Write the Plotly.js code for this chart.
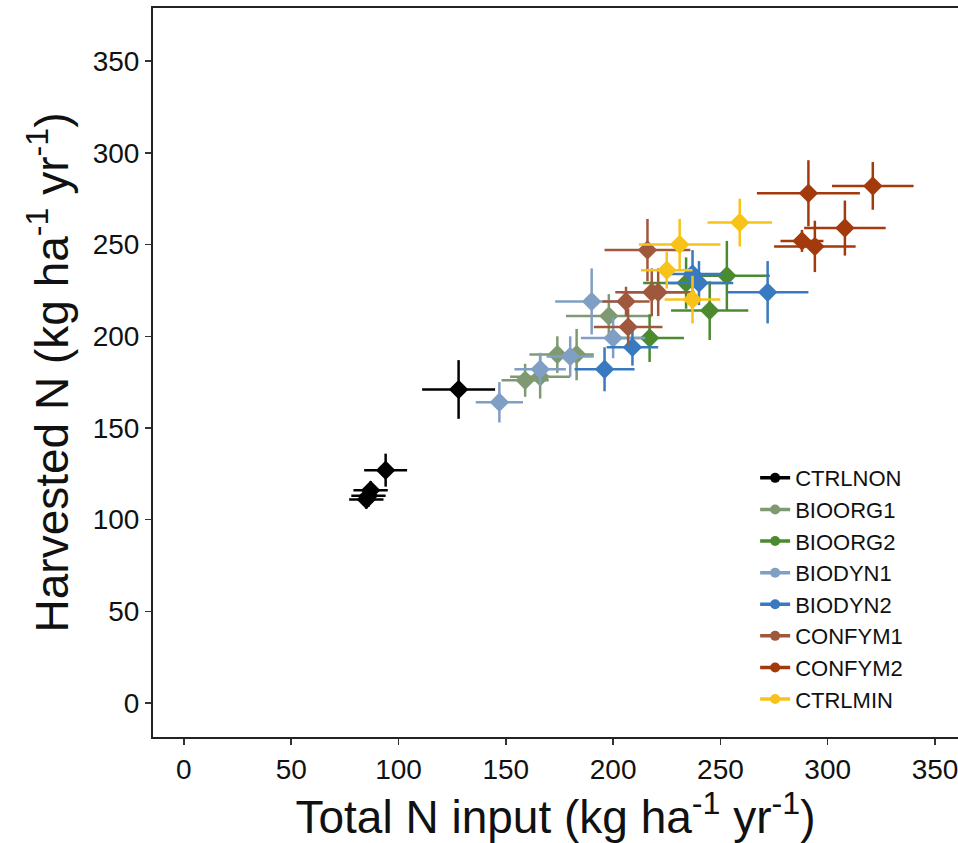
<!DOCTYPE html>
<html>
<head>
<meta charset="utf-8">
<script src="https://cdn.plot.ly/plotly-3.0.1.min.js"></script>
<style>html,body{margin:0;padding:0;background:#fff;}#chart{width:958px;height:843px;}</style>
</head>
<body>
<div id="chart"></div>
<script>
// Treatments
const treatments = ["CTRLNON","BIOORG1","BIOORG2","BIODYN1","BIODYN2","CONFYM1","CONFYM2","CTRLMIN"];
const colors = ["#000000","#7F9A72","#4C8A30","#7F9FC4","#3979C0","#A0583C","#A23A0C","#F7C31A"];

// Total N input (x), Harvested N (y), and their error values
const ctrlnonX = [128, 94, 87, 85, 86];
const ctrlnonY = [171, 127, 116, 111, 113];
const ctrlnonXerr = [17, 10, 8, 8, 8];
const ctrlnonYerr = [16, 9, 5, 5, 6];

const bioorg1X = [159, 166, 174, 183, 198];
const bioorg1Y = [176, 178, 190, 190, 211];
const bioorg1Xerr = [11, 14, 13, 8, 20];
const bioorg1Yerr = [9, 12, 10, 14, 12];

const bioorg2X = [217, 234, 253, 245];
const bioorg2Y = [199, 229, 233, 214];
const bioorg2Xerr = [16, 20, 20, 18];
const bioorg2Yerr = [13, 14, 19, 16];

const biodyn1X = [147, 166, 180, 190, 200];
const biodyn1Y = [164, 182, 189, 219, 199];
const biodyn1Xerr = [11, 12, 11, 17, 15];
const biodyn1Yerr = [11, 9, 11, 18, 11];

const biodyn2X = [196, 209, 237, 240, 272];
const biodyn2Y = [182, 194, 234, 229, 224];
const biodyn2Xerr = [14, 12, 14, 16, 19];
const biodyn2Yerr = [12, 10, 13, 12, 17];

const confym1X = [216, 206, 218, 221, 207];
const confym1Y = [247, 219, 224, 224, 205];
const confym1Xerr = [20, 11, 17, 17, 16];
const confym1Yerr = [17, 8, 13, 13, 10];

const confym2X = [291, 321, 308, 288, 294];
const confym2Y = [278, 282, 259, 252, 249];
const confym2Xerr = [24, 19, 19, 10, 19];
const confym2Yerr = [18, 13, 15, 6, 14];

const ctrlminX = [259, 231, 225, 237];
const ctrlminY = [262, 250, 236, 220];
const ctrlminXerr = [15, 19, 12, 13];
const ctrlminYerr = [13, 14, 10, 13];

const xTicks = [0, 50, 100, 150, 200, 250, 300, 350];
const yTicks = [0, 50, 100, 150, 200, 250, 300, 350];

const series = [
  [ctrlnonX, ctrlnonY, ctrlnonXerr, ctrlnonYerr],
  [bioorg1X, bioorg1Y, bioorg1Xerr, bioorg1Yerr],
  [bioorg2X, bioorg2Y, bioorg2Xerr, bioorg2Yerr],
  [biodyn1X, biodyn1Y, biodyn1Xerr, biodyn1Yerr],
  [biodyn2X, biodyn2Y, biodyn2Xerr, biodyn2Yerr],
  [confym1X, confym1Y, confym1Xerr, confym1Yerr],
  [confym2X, confym2Y, confym2Xerr, confym2Yerr],
  [ctrlminX, ctrlminY, ctrlminXerr, ctrlminYerr]
];

const traces = [];
series.forEach((s, i) => {
  traces.push({
    type: "scatter", mode: "markers",
    x: s[0], y: s[1], name: treatments[i],
    showlegend: false,
    marker: {symbol: "diamond", size: 15, color: colors[i]},
    error_x: {type: "data", array: s[2], visible: true, color: colors[i], thickness: 2.5, width: 0},
    error_y: {type: "data", array: s[3], visible: true, color: colors[i], thickness: 2.5, width: 0},
    hoverinfo: "x+y+name"
  });
});
// legend entries (line + point key)
treatments.forEach((t, i) => {
  traces.push({
    type: "scatter", mode: "lines+markers",
    x: [null], y: [null], name: t, showlegend: true,
    marker: {symbol: "circle", size: 10, color: colors[i]},
    line: {color: colors[i], width: 3.5}
  });
});

const layout = {
  width: 958, height: 843,
  margin: {l: 153, r: 0, t: 8, b: 106},
  paper_bgcolor: "#ffffff", plot_bgcolor: "#ffffff",
  font: {family: "Liberation Sans, Arial, sans-serif", color: "#111"},
  showlegend: true,
  legend: {
    x: 0.748, y: 0.384, xanchor: "left", yanchor: "top",
    font: {size: 22, color: "#111"}, bgcolor: "rgba(0,0,0,0)",
    itemwidth: 30, tracegroupgap: 0
  },
  xaxis: {
    range: [-14.4, 360.7], tickvals: xTicks, ticktext: xTicks.map(String),
    showgrid: false, zeroline: false,
    showline: true, linecolor: "#222", linewidth: 2, mirror: true,
    ticks: "outside", ticklen: 6, tickwidth: 1.5, tickcolor: "#333",
    ticklabeloverflow: "allow",
    tickfont: {size: 28, color: "#111"},
    title: {text: "Total N input (kg ha<sup>-1</sup> yr<sup>-1</sup>)", font: {size: 46, color: "#111"}, standoff: 6}
  },
  yaxis: {
    range: [-18.5, 379], tickvals: yTicks, ticktext: yTicks.map(String),
    showgrid: false, zeroline: false,
    showline: true, linecolor: "#222", linewidth: 2, mirror: true,
    ticks: "outside", ticklen: 6, tickwidth: 1.5, tickcolor: "#333",
    tickfont: {size: 28, color: "#111"},
    title: {text: "Harvested N (kg ha<sup>-1</sup> yr<sup>-1</sup>)", font: {size: 46, color: "#111"}, standoff: 10}
  }
};

Plotly.newPlot("chart", traces, layout, {displayModeBar: false, staticPlot: true});
</script>
</body>
</html>
